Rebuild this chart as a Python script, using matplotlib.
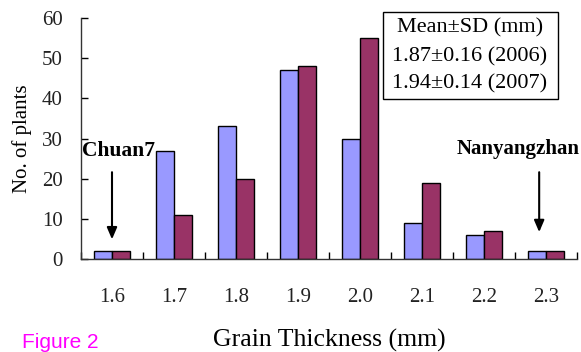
import matplotlib
matplotlib.use("Agg")
import matplotlib.pyplot as plt
from matplotlib.patches import Rectangle
import numpy as np

categories = ["1.6", "1.7", "1.8", "1.9", "2.0", "2.1", "2.2", "2.3"]
counts_2006 = [2, 27, 33, 47, 30, 9, 6, 2]
counts_2007 = [2, 11, 20, 48, 55, 19, 7, 2]
y_ticks = [0, 10, 20, 30, 40, 50, 60]
stats_lines = ["Mean\u00b1SD (mm)", "1.87\u00b10.16 (2006)", "1.94\u00b10.14 (2007)"]

W, H = 581, 352
fig = plt.figure(figsize=(W / 100, H / 100), dpi=100)
ax = fig.add_axes([81 / W, 1 - 259 / H, 496 / W, 241 / H])

serif = "Liberation Serif"
x = np.arange(len(categories))
w = 0.29
ax.bar(x - w / 2, counts_2006, w, color="#9999FF", edgecolor="black", linewidth=1.0)
ax.bar(x + w / 2, counts_2007, w, color="#993366", edgecolor="black", linewidth=1.0)

ax.set_xlim(-0.5, len(categories) - 0.5)
ax.set_ylim(0, 60)
ax.set_yticks(y_ticks)
ax.set_yticklabels([str(v) for v in y_ticks], fontfamily=serif, fontsize=15, color="#222222")
ax.set_xticks(x)
ax.set_xticklabels(categories, fontfamily=serif, fontsize=15, color="#222222")
ax.set_xticks(np.arange(len(categories) + 1) - 0.5, minor=True)
ax.tick_params(axis="x", which="major", length=0, pad=21)
ax.tick_params(axis="x", which="minor", direction="in", length=5, width=1)
ax.tick_params(axis="y", direction="in", length=5, width=1, pad=13)
for s in ["top", "right"]:
    ax.spines[s].set_visible(False)
for s in ["left", "bottom"]:
    ax.spines[s].set_linewidth(1.0)
    ax.spines[s].set_color("#333333")

ax.set_ylabel("No. of plants", fontfamily=serif, fontsize=15, labelpad=7)
fig.text(329 / W, 1 - 340 / H, "Grain Thickness (mm)", fontfamily=serif, fontsize=18.5,
         ha="center", va="center")
fig.text(22 / W, 1 - 342 / H, "Figure 2", fontfamily="Liberation Sans", fontsize=15,
         color="#FF00FF", ha="left", va="center")

ax.annotate("", xy=(0, 4.2), xytext=(0, 22.3),
            arrowprops=dict(arrowstyle="-|>,head_length=0.7,head_width=0.3", color="black", lw=1.5))
ax.annotate("", xy=(6.89, 6.0), xytext=(6.89, 22.3),
            arrowprops=dict(arrowstyle="-|>,head_length=0.7,head_width=0.3", color="black", lw=1.5))
ax.text(0.11, 26.8, "Chuan7", fontfamily=serif, fontweight="bold", fontsize=15.5,
        ha="center", va="center")
ax.text(6.55, 27.3, "Nanyangzhan", fontfamily=serif, fontweight="bold", fontsize=15,
        ha="center", va="center")

fig.patches.append(Rectangle((383 / W, 1 - 99 / H), 175 / W, 87 / H, transform=fig.transFigure,
                             facecolor="white", edgecolor="black", linewidth=1.0, zorder=5))
for yy, line in zip([28, 57, 84], stats_lines):
    fig.text(470 / W, 1 - yy / H, line, fontfamily=serif, fontsize=16, ha="center",
             va="center", zorder=6)

fig.savefig("out.png", dpi=100)
